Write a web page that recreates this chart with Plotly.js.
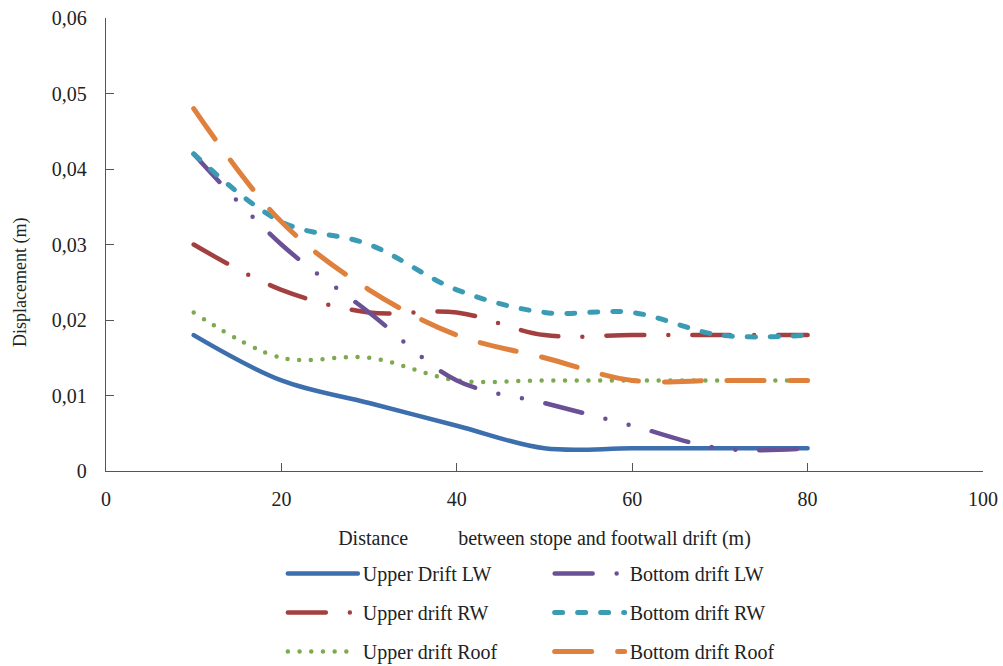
<!DOCTYPE html>
<html>
<head>
<meta charset="utf-8">
<script src="https://cdn.plot.ly/plotly-3.0.1.min.js"></script>
<style>
html,body{margin:0;padding:0;background:#fff;}
#chart{width:1003px;height:666px;}
.js-line{stroke-linecap:round;}
</style>
</head>
<body>
<div id="chart"></div>
<script>
var distance = [10, 20, 30, 40, 50, 60, 70, 80];
var upperDriftLW   = [0.018, 0.012, 0.009, 0.006, 0.003, 0.003, 0.003, 0.003];
var bottomDriftLW  = [0.042, 0.030, 0.021, 0.012, 0.009, 0.006, 0.003, 0.003];
var upperDriftRW   = [0.030, 0.024, 0.021, 0.021, 0.018, 0.018, 0.018, 0.018];
var bottomDriftRW  = [0.042, 0.033, 0.030, 0.024, 0.021, 0.021, 0.018, 0.018];
var upperDriftRoof = [0.021, 0.015, 0.015, 0.012, 0.012, 0.012, 0.012, 0.012];
var bottomDriftRoof= [0.048, 0.033, 0.024, 0.018, 0.015, 0.012, 0.012, 0.012];

var yTickVals = [0, 0.01, 0.02, 0.03, 0.04, 0.05, 0.06];
var yTickText = ['0', '0,01', '0,02', '0,03', '0,04', '0,05', '0,06'];
var xTickVals = [0, 20, 40, 60, 80, 100];
var yTitle = 'Displacement (m)';
var xTitle = 'Distance&nbsp;&nbsp;&nbsp;&nbsp;&nbsp;&nbsp;&nbsp;&nbsp;&nbsp;&nbsp;between stope and footwall drift (m)';

function tr(name, y, color, dash, width, legend, group) {
  return {
    type: 'scatter', mode: 'lines', name: name, x: distance, y: y,
    line: {color: color, dash: dash, width: width, shape: 'spline', smoothing: 1},
    legend: legend, legendgroup: group, hoverinfo: 'skip'
  };
}

var data = [
  tr('Upper Drift LW', upperDriftLW, '#3D6EAE', 'solid', 4.5, 'legend', 'g1'),
  tr('Upper drift RW', upperDriftRW, '#A3403F', '38px,24px,0px,24px', 4.5, 'legend', 'g2'),
  tr('Upper drift Roof', upperDriftRoof, '#7EA950', '0px,11.7px', 4.5, 'legend', 'g3'),
  tr('Bottom drift LW', bottomDriftLW, '#6A5196', '38px,24px,0px,24px,0px,24px', 4.5, 'legend2', 'g4'),
  tr('Bottom drift RW', bottomDriftRW, '#3A9BB5', '8px,15px', 5, 'legend2', 'g5'),
  tr('Bottom drift Roof', bottomDriftRoof, '#DF803C', '37px,26px', 5, 'legend2', 'g6')
];

var fontFam = '"Liberation Serif", "Times New Roman", serif';
var legendCommon = {
  orientation: 'v', xref: 'container', yref: 'container', yanchor: 'top', xanchor: 'left',
  font: {family: fontFam, size: 20, color: '#222'},
  itemwidth: 70, tracegroupgap: 10, bgcolor: 'rgba(0,0,0,0)',
  itemclick: false, y: 0.168
};

var layout = {
  width: 1003, height: 666,
  margin: {l: 106, r: 20, t: 18, b: 195, autoexpand: false},
  paper_bgcolor: '#fff', plot_bgcolor: '#fff',
  font: {family: fontFam, size: 20, color: '#222'},
  showlegend: true,
  xaxis: {
    range: [0, 100], tickvals: xTickVals, ticks: 'inside', ticklen: 8,
    tickcolor: '#555', showline: true, linecolor: '#555', linewidth: 1.3,
    showgrid: false, zeroline: false, ticklabelstandoff: 10,
    tickfont: {family: fontFam, size: 20, color: '#222'},
    title: {text: xTitle, font: {family: fontFam, size: 20, color: '#222'}, standoff: 21}
  },
  yaxis: {
    range: [0, 0.06], tickvals: yTickVals, ticktext: yTickText, ticks: 'inside', ticklen: 8,
    tickcolor: '#555', showline: true, linecolor: '#555', linewidth: 1.3,
    showgrid: false, zeroline: false, ticklabelstandoff: 14,
    tickfont: {family: fontFam, size: 20, color: '#222'}
  },
  annotations: [{
    text: yTitle, textangle: -90, xref: 'paper', yref: 'paper',
    x: -0.098, y: 0.415, xanchor: 'center', yanchor: 'middle', showarrow: false,
    font: {family: fontFam, size: 18, color: '#222'}
  }],
  legend: Object.assign({}, legendCommon, {x: 0.282}),
  legend2: Object.assign({}, legendCommon, {x: 0.548})
};

Plotly.newPlot('chart', data, layout, {staticPlot: true, displayModeBar: false});
</script>
</body>
</html>
